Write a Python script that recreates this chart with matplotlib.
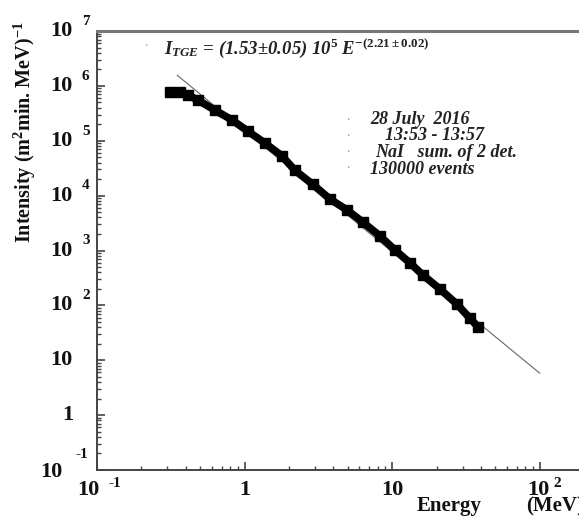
import numpy as np
import matplotlib.pyplot as plt
import matplotlib as mlt
from matplotlib.ticker import LogLocator, NullFormatter

mlt.rcParams["font.family"] = "Liberation Serif"
mlt.rcParams["font.weight"] = "bold"
mlt.rcParams["mathtext.fontset"] = "custom"
mlt.rcParams["mathtext.rm"] = "Liberation Serif:bold"
mlt.rcParams["mathtext.bf"] = "Liberation Serif:bold"
mlt.rcParams["mathtext.it"] = "Liberation Serif:italic:bold"
mlt.rcParams["mathtext.default"] = "bf"

# spettro (MeV, intensita')
energy = [0.312, 0.365, 0.413, 0.483, 0.630, 0.820, 1.05, 1.37, 1.79, 2.19, 2.90,
          3.78, 4.93, 6.32, 8.24, 10.4, 13.2, 16.1, 21.0, 27.4, 33.5, 38.0]
intensity = [7.7e5, 7.7e5, 6.8e5, 5.5e5, 3.6e5, 2.4e5, 1.5e5, 9.1e4, 5.3e4, 2.9e4, 1.6e4,
             8.7e3, 5.5e3, 3.3e3, 1.85e3, 1.03e3, 594, 359, 200, 106, 59, 41]

# fit a legge di potenza
fit_a = 1.53e5
fit_gamma = 2.21
fit_range = [0.35, 100]

xtick_vals = [0.1, 1, 10, 100]
xtick_base = ["10", "1", "10", "10"]
xtick_exp = ["-1", "", "", "2"]

ytick_vals = [0.1, 1, 10, 1e2, 1e3, 1e4, 1e5, 1e6, 1e7]
ytick_base = ["10", "1", "10", "10", "10", "10", "10", "10", "10"]
ytick_exp = ["-1", "", "", "2", "3", "4", "5", "6", "7"]

info_lines = ["28 July  2016", "13:53 - 13:57", "NaI   sum. of 2 det.", "130000 events"]

W, H = 579, 516
fig = plt.figure(figsize=(W / 100, H / 100), dpi=100)
ax = fig.add_axes([97 / W, 46 / H, 487 / W, 439 / H])
ax.set_xscale("log")
ax.set_yscale("log")
ax.set_xlim(0.1, 10 ** 2.3)
ax.set_ylim(0.1, 1e7)

fit_i = [fit_a * e ** (-fit_gamma) for e in fit_range]
ax.plot(fit_range, fit_i, color="#666666", lw=0.8, zorder=2)
ax.plot(energy, intensity, "-", color="black", lw=5.5, solid_capstyle="butt", zorder=3)
ax.plot(energy, intensity, "s", color="black", ms=7, zorder=4)

# assi
for s in ["left", "bottom", "top"]:
    ax.spines[s].set_color("#444444")
    ax.spines[s].set_linewidth(1.4)
ax.spines["top"].set_color("#777777")
ax.spines["top"].set_linewidth(2.2)
ax.spines["right"].set_visible(False)

ax.xaxis.set_major_locator(LogLocator(base=10, numticks=100))
ax.yaxis.set_major_locator(LogLocator(base=10, numticks=100))
ax.xaxis.set_minor_locator(LogLocator(base=10, subs=np.arange(2, 10), numticks=100))
ax.yaxis.set_minor_locator(LogLocator(base=10, subs=np.arange(2, 10), numticks=100))
ax.xaxis.set_major_formatter(NullFormatter())
ax.xaxis.set_minor_formatter(NullFormatter())
ax.yaxis.set_major_formatter(NullFormatter())
ax.yaxis.set_minor_formatter(NullFormatter())
ax.tick_params(which="both", direction="in", top=False, right=False, color="#444444")
ax.tick_params(which="major", length=6, width=1.2)
ax.tick_params(which="minor", length=3, width=1.0)

# etichette dei tick
for v, b, e in zip(ytick_vals, ytick_base, ytick_exp):
    if e == "-1":
        bx, by, ex, ey = -24.5, -1.5, -15.5, 11
    else:
        bx, by, ex, ey = -17.3, 0, -10.8, 7
    ax.annotate(b, xy=(0, v), xycoords=("axes fraction", "data"), xytext=(bx, by),
                textcoords="offset points", ha="right", va="center", fontsize=16, color="#111111")
    if e:
        ax.annotate(e, xy=(0, v), xycoords=("axes fraction", "data"), xytext=(ex, ey),
                    textcoords="offset points", ha="left", va="center", fontsize=11, color="#111111")

for v, b, e in zip(xtick_vals, xtick_base, xtick_exp):
    if e == "-1":
        bx, ha, ex = 2, "right", 8.5
    elif e:
        bx, ha, ex = 7, "right", 10
    else:
        bx, ha, ex = 0, "center", 0
    ax.annotate(b, xy=(v, 0), xycoords=("data", "axes fraction"), xytext=(bx, -14.5),
                textcoords="offset points", ha=ha, va="center", fontsize=16, color="#111111")
    if e:
        ax.annotate(e, xy=(v, 0), xycoords=("data", "axes fraction"), xytext=(ex, -9.5),
                    textcoords="offset points", ha="left", va="center", fontsize=11, color="#111111")

fig.text(25 / W, 1 - 132 / H, r"Intensity (m$^{2}$min. MeV)$^{-1}$", rotation=90,
         ha="center", va="center", fontsize=14.5, color="#111111")
fig.text(449 / W, 1 - 506 / H, "Energy", ha="center", va="center", fontsize=15, color="#111111")
fig.text(526 / W, 1 - 506 / H, "(MeV)", ha="left", va="center", fontsize=15, color="#111111")

fig.text(164 / W, 1 - 48 / H,
         r"$\mathit{I}_{\mathit{TGE}}$ = (1.53$\pm$0.05) 10$^{\mathit{5}}$ E$^{\mathit{-(2.21\pm0.02)}}$",
         ha="left", va="center", fontsize=13.5, style="italic", color="#222222")
fig.text(146 / W, 1 - 46 / H, "·", ha="center", va="center", fontsize=7, color="#999999")

info_x = [370, 385, 375, 370]
info_y = [120, 136, 152, 169]
for t, x, y in zip(info_lines, info_x, info_y):
    fig.text(x / W, 1 - y / H, t, ha="left", va="center", fontsize=13, style="italic", color="#222222")
    fig.text(348 / W, 1 - y / H, "·", ha="center", va="center", fontsize=7, color="#999999")

fig.savefig("out.png", dpi=100)
